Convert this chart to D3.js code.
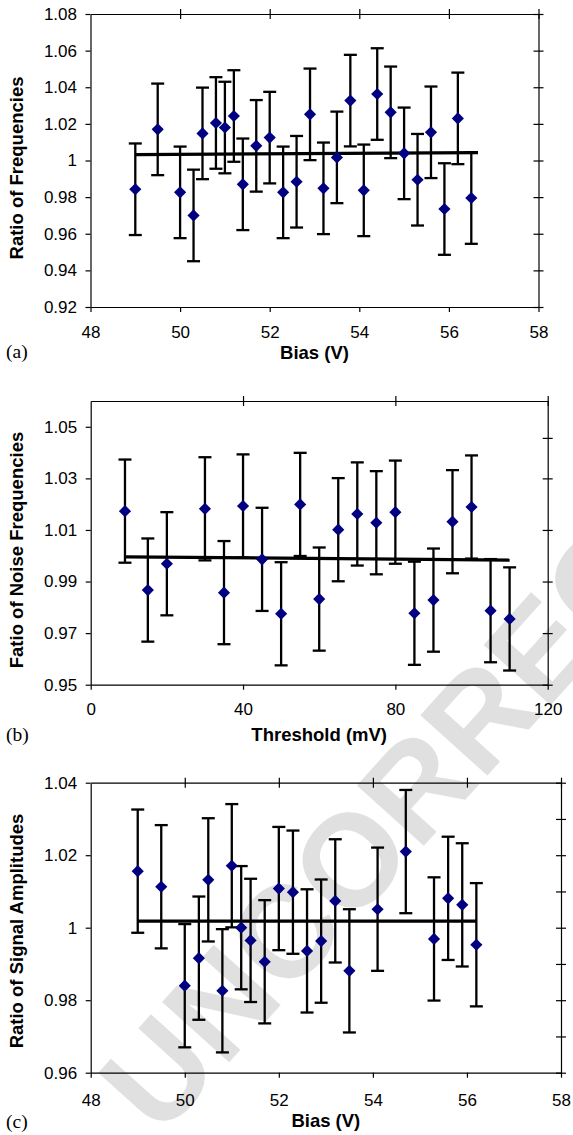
<!DOCTYPE html>
<html>
<head>
<meta charset="utf-8">
<script src="https://cdn.jsdelivr.net/npm/d3@7"></script>
<style>
  body { margin: 0; background: #fff; }
  svg { display: block; }
  .tick text { font-family: "Liberation Sans", Arial, sans-serif; font-size: 17px; fill: #000; }
  .domain, .tick line { stroke: #000; stroke-width: 1.2px; }
</style>
</head>
<body>
<svg id="fig" width="573" height="1135"></svg>
<script>
// (a) ratio of frequencies versus bias
const biasA = [49.0, 49.5, 50.0, 50.3, 50.5, 50.8, 51.0, 51.2, 51.4, 51.7, 52.0, 52.3, 52.6,
               52.9, 53.2, 53.5, 53.8, 54.1, 54.4, 54.7, 55.0, 55.3, 55.6, 55.9, 56.2, 56.5];
const ratioA = [0.9843, 1.0170, 0.9826, 0.9700, 1.0148, 1.0205, 1.0180, 1.0243, 0.9870, 1.0080,
                1.0125, 0.9826, 0.9884, 1.0252, 0.9848, 1.0017, 1.0327, 0.9837, 1.0363, 1.0263,
                1.0039, 0.9895, 1.0154, 0.9735, 1.0230, 0.9795];
const errA = 0.025;
const fitXA = [49.0, 56.65];
const fitYA = [1.0032, 1.0043];
const xTicksA = [48, 50, 52, 54, 56, 58];
const yTicksA = [0.92, 0.94, 0.96, 0.98, 1.00, 1.02, 1.04, 1.06, 1.08];
const yTicksRightA = [0.92, 0.94, 0.96, 0.98, 1.00, 1.02, 1.04, 1.06, 1.08];

// (b) ratio of noise frequencies versus threshold
const thresholdB = [9, 15, 20, 30, 35, 40, 45, 50, 55, 60, 65, 70, 75, 80, 85, 90, 95, 100, 105, 110];
const ratioB = [1.0173, 0.9867, 0.9969, 1.0182, 0.9857, 1.0193, 0.9986, 0.9775, 1.0199, 0.9832,
                1.0101, 1.0162, 1.0128, 1.0169, 0.9777, 0.9828, 1.0132, 1.0189, 0.9787, 0.9755];
const errB = 0.020;
const fitXB = [9, 110];
const fitYB = [0.9996, 0.9983];
const xTicksB = [0, 40, 80, 120];
const yTicksB = [0.95, 0.97, 0.99, 1.01, 1.03, 1.05];
const yTicksRightB = [0.95, 0.97, 0.99, 1.01, 1.03, 1.0457];

// (c) ratio of signal amplitudes versus bias
const biasC = [49.0, 49.5, 50.0, 50.3, 50.5, 50.8, 51.0, 51.2, 51.4, 51.7, 52.0,
               52.3, 52.6, 52.9, 53.2, 53.5, 54.1, 54.7, 55.3, 55.6, 55.9, 56.2];
const ratioC = [1.0156, 1.0113, 0.9840, 0.9916, 1.0132, 0.9826, 1.0171, 1.0000, 0.9965, 0.9906, 1.0108,
                1.0098, 0.9936, 0.9963, 1.0074, 0.9881, 1.0051, 1.0210, 0.9969, 1.0081, 1.0063, 0.9953];
const errC = 0.017;
const fitXC = [49.0, 56.2];
const fitYC = [1.0018, 1.0018];
const xTicksC = [48, 50, 52, 54, 56, 58];
const yTicksC = [0.96, 0.98, 1.00, 1.02, 1.04];
const yTicksRightC = [0.96, 0.97, 0.98, 0.99, 1.00, 1.01, 1.02, 1.03, 1.04];

const svg = d3.select("#fig");
const SANS = "'Liberation Sans', Arial, Helvetica, sans-serif";
const SERIF = "'Liberation Serif', 'Times New Roman', serif";
const fmt = d => String(+d.toFixed(3));

// light diagonal stamp behind the plots
svg.append("text")
  .attr("transform", "translate(160,1139) rotate(-48)")
  .attr("font-family", SANS)
  .attr("font-weight", "bold")
  .attr("font-size", 131)
  .attr("fill", "#e0e0e0")
  .text("UNCORRECTED");

function panel(o) {
  const x = d3.scaleLinear().domain(o.xDomain).range([o.left, o.right]);
  const y = d3.scaleLinear().domain(o.yDomain).range([o.bottom, o.top]);
  const g = svg.append("g");

  // left axis with labels, outward ticks
  g.append("g")
    .attr("transform", `translate(${o.left},0)`)
    .call(d3.axisLeft(y).tickValues(o.yTicks).tickSize(5).tickSizeOuter(0)
      .tickPadding(8.5).tickFormat(fmt));

  // right axis, ticks crossing the line
  const r = g.append("g")
    .attr("transform", `translate(${o.right},0)`)
    .call(d3.axisRight(y).tickValues(o.yTicksRight).tickSize(5).tickSizeOuter(0).tickFormat(""));
  r.selectAll(".tick line").attr("x1", -5);

  // bottom axis with labels
  g.append("g")
    .attr("transform", `translate(0,${o.bottom})`)
    .call(d3.axisBottom(x).tickValues(o.xTicks).tickSize(5).tickSizeOuter(0)
      .tickPadding(o.xPad).tickFormat(d3.format("d")));

  // top axis, ticks crossing the line
  const t = g.append("g")
    .attr("transform", `translate(0,${o.top})`)
    .call(d3.axisTop(x).tickValues(o.xTicks.slice(1)).tickSize(5).tickSizeOuter(0).tickFormat(""));
  t.selectAll(".tick line").attr("y1", 5);

  const pts = o.xs.map((v, i) => ({ x: v, y: o.ys[i] }));

  // error bars
  const eb = g.append("g").attr("stroke", "#000").attr("stroke-width", 2.3).attr("fill", "none");
  const cap = 6.5;
  pts.forEach(p => {
    const cx = x(p.x), y0 = y(p.y - o.err), y1 = y(p.y + o.err);
    eb.append("line").attr("x1", cx).attr("x2", cx).attr("y1", y0).attr("y2", y1);
    eb.append("line").attr("x1", cx - cap).attr("x2", cx + cap).attr("y1", y0).attr("y2", y0);
    eb.append("line").attr("x1", cx - cap).attr("x2", cx + cap).attr("y1", y1).attr("y2", y1);
  });

  // linear fit
  g.append("path")
    .datum(o.fitX.map((v, i) => [v, o.fitY[i]]))
    .attr("fill", "none")
    .attr("stroke", "#000")
    .attr("stroke-width", 3.3)
    .attr("d", d3.line().x(d => x(d[0])).y(d => y(d[1])));

  // diamond markers
  const diamond = d3.symbol(d3.symbolSquare).size(74);
  g.append("g").selectAll("path")
    .data(pts)
    .join("path")
    .attr("d", diamond)
    .attr("fill", "#000080")
    .attr("transform", d => `translate(${x(d.x)},${y(d.y)}) rotate(45)`);

  // axis titles and panel letter
  g.append("text")
    .attr("x", (o.left + o.right) / 2)
    .attr("y", o.xTitleY)
    .attr("text-anchor", "middle")
    .attr("font-family", SANS)
    .attr("font-weight", "bold")
    .attr("font-size", 18.5)
    .text(o.xTitle);

  g.append("text")
    .attr("transform", `translate(23,${o.yTitleY}) rotate(-90)`)
    .attr("text-anchor", "middle")
    .attr("font-family", SANS)
    .attr("font-weight", "bold")
    .attr("font-size", 18.5)
    .text(o.yTitle);

  g.append("text")
    .attr("x", 6)
    .attr("y", o.letterY)
    .attr("font-family", SERIF)
    .attr("font-size", 19.5)
    .text(o.letter);
}

panel({
  xs: biasA, ys: ratioA, err: errA, fitX: fitXA, fitY: fitYA,
  xDomain: [48, 58], yDomain: [0.92, 1.08],
  xTicks: xTicksA, yTicks: yTicksA, yTicksRight: yTicksRightA,
  left: 90.5, right: 538.5, top: 14, bottom: 307, xPad: 13.5,
  xTitle: "Bias (V)", xTitleY: 359,
  yTitle: "Ratio of Frequencies", yTitleY: 168,
  letter: "(a)", letterY: 358
});

panel({
  xs: thresholdB, ys: ratioB, err: errB, fitX: fitXB, fitY: fitYB,
  xDomain: [0, 120], yDomain: [0.95, 1.06],
  xTicks: xTicksB, yTicks: yTicksB, yTicksRight: yTicksRightB,
  left: 90.7, right: 547.7, top: 401, bottom: 684.7, xPad: 13.2,
  xTitle: "Threshold (mV)", xTitleY: 741,
  yTitle: "Fatio of Noise Frequencies", yTitleY: 550,
  letter: "(b)", letterY: 741
});

panel({
  xs: biasC, ys: ratioC, err: errC, fitX: fitXC, fitY: fitYC,
  xDomain: [48, 58], yDomain: [0.96, 1.04],
  xTicks: xTicksC, yTicks: yTicksC, yTicksRight: yTicksRightC,
  left: 90.7, right: 561, top: 782.7, bottom: 1072.7, xPad: 16.5,
  xTitle: "Bias (V)", xTitleY: 1127,
  yTitle: "Ratio of Signal Amplitudes", yTitleY: 931,
  letter: "(c)", letterY: 1128
});
</script>
</body>
</html>
